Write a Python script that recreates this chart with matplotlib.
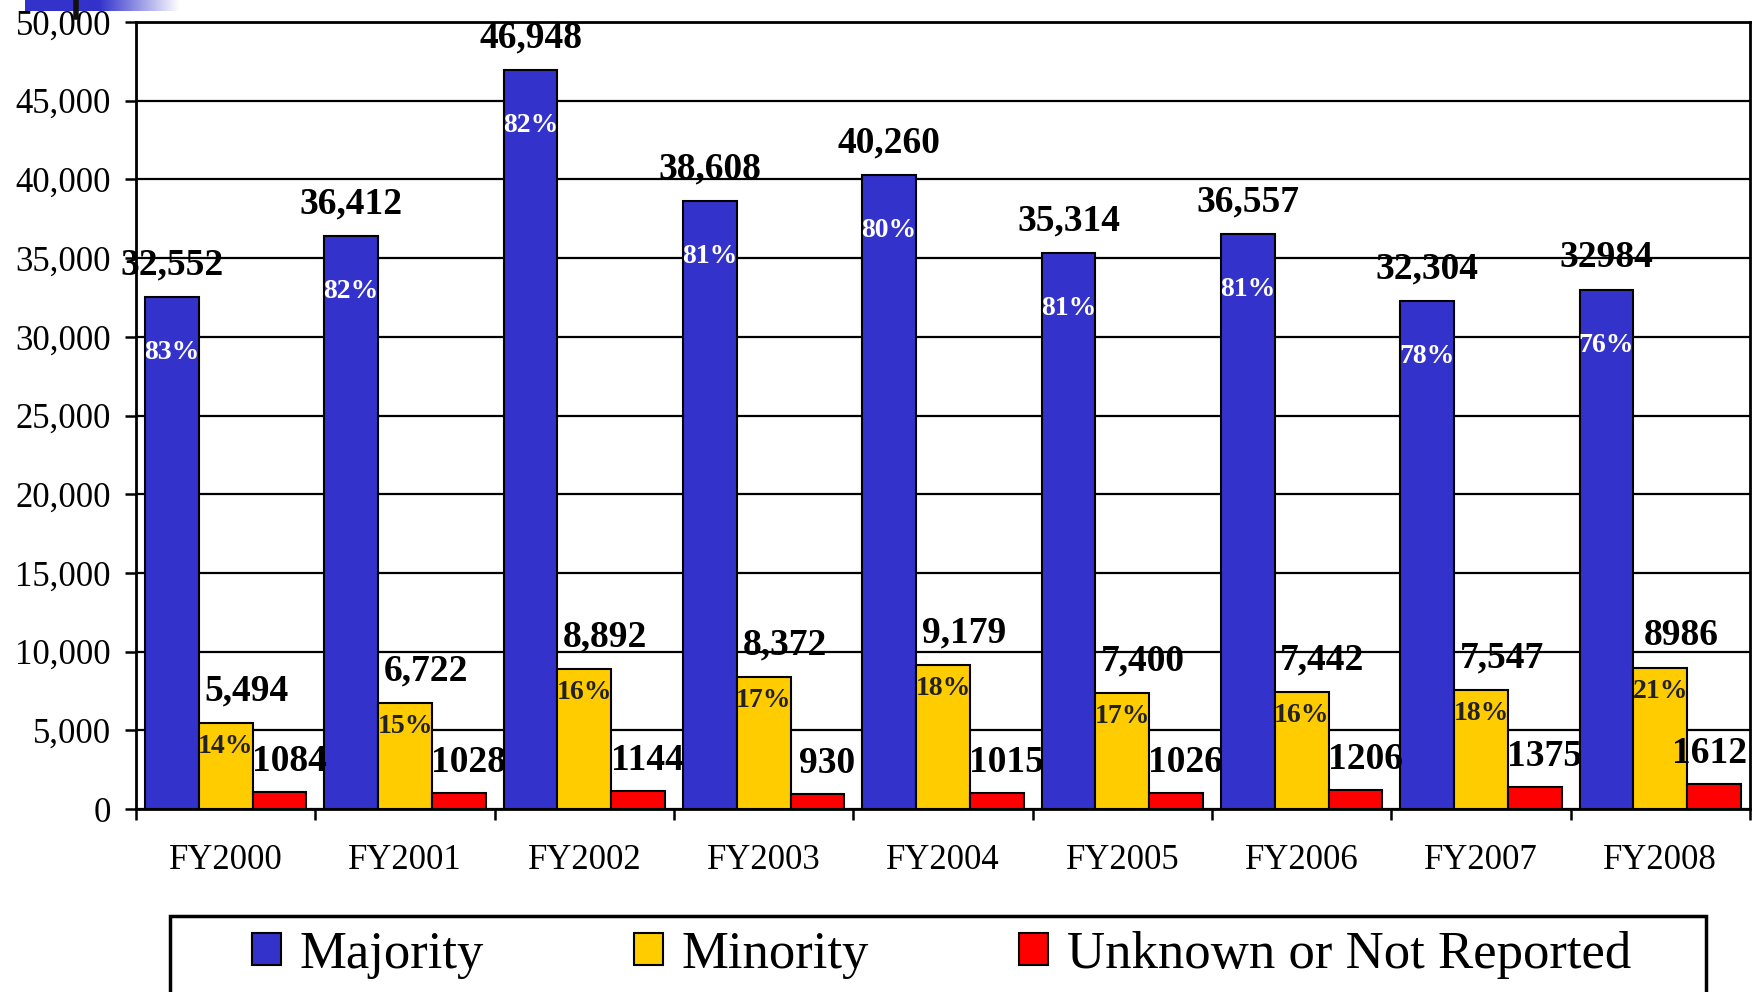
import matplotlib.pyplot as plt
import numpy as np
from matplotlib.patches import Patch, Rectangle
from matplotlib.lines import Line2D
from matplotlib.colors import LinearSegmentedColormap

# data
years = ['FY2000', 'FY2001', 'FY2002', 'FY2003', 'FY2004',
         'FY2005', 'FY2006', 'FY2007', 'FY2008']
majority = [32552, 36412, 46948, 38608, 40260, 35314, 36557, 32304, 32984]
minority = [5494, 6722, 8892, 8372, 9179, 7400, 7442, 7547, 8986]
unknown = [1084, 1028, 1144, 930, 1015, 1026, 1206, 1375, 1612]
majority_text = ['32,552', '36,412', '46,948', '38,608', '40,260',
                 '35,314', '36,557', '32,304', '32984']
minority_text = ['5,494', '6,722', '8,892', '8,372', '9,179',
                 '7,400', '7,442', '7,547', '8986']
majority_pct = [83, 82, 82, 81, 80, 81, 81, 78, 76]
minority_pct = [14, 15, 16, 17, 18, 17, 16, 18, 21]
series_names = ['Majority', 'Minority', 'Unknown or Not Reported']
colors = ['#3333CC', '#FFCC00', '#FF0000']

plt.rcParams['font.family'] = ['Liberation Serif', 'DejaVu Serif']

W, H = 1752, 992
fig = plt.figure(figsize=(W / 100, H / 100), dpi=100)
ax = fig.add_axes([136 / W, 1 - 809 / H, (1750 - 136) / W, (809 - 22) / H])

x = np.arange(len(years))
w = 0.3
ax.bar(x - w, majority, w, color=colors[0], edgecolor='black', lw=1.5, zorder=3)
ax.bar(x, minority, w, color=colors[1], edgecolor='black', lw=1.5, zorder=3)
ax.bar(x + w, unknown, w, color=colors[2], edgecolor='black', lw=1.5, zorder=3)

ax.set_xlim(-0.5, len(years) - 0.5)
ax.set_ylim(0, 50000)
ax.set_yticks(np.arange(0, 50001, 5000))
ax.set_yticklabels([f'{v:,}' for v in range(0, 50001, 5000)], fontsize=25)
ax.yaxis.grid(True, color='black', lw=1.6)
ax.set_axisbelow(True)

# group boundaries get the tick marks, names sit in between
ax.set_xticks(np.arange(-0.5, len(years), 1))
ax.set_xticklabels([])
ax.set_xticks(x, minor=True)
ax.set_xticklabels(years, minor=True, fontsize=25)
ax.tick_params(axis='x', which='major', direction='out', length=8, width=1.8)
ax.tick_params(axis='x', which='minor', length=0, pad=25)
ax.tick_params(axis='y', direction='out', length=8, width=1.8, pad=10)
for s in ax.spines.values():
    s.set_linewidth(2)
    s.set_color('black')

# value labels
lbl = dict(textcoords='offset points', ha='center', va='center',
           fontweight='bold', fontsize=27, color='black', zorder=5)
last = len(years) - 1
for i in range(len(years)):
    ax.annotate(majority_text[i], (x[i] - w, majority[i]), xytext=(0, 23), **lbl)
    ax.annotate(minority_text[i], (x[i], minority[i]), xytext=(15, 23), **lbl)
    ax.annotate(str(unknown[i]), (x[i] + w, unknown[i]),
                xytext=(7 if i < last else -3, 22), **lbl)
    ax.annotate(f'{majority_pct[i]}%', (x[i] - w, majority[i]), xytext=(0, -40),
                textcoords='offset points', ha='center', va='center',
                fontweight='bold', fontsize=20, color='white', zorder=5)
    ax.annotate(f'{minority_pct[i]}%', (x[i], minority[i]), xytext=(0, -17),
                textcoords='offset points', ha='center', va='center',
                fontweight='bold', fontsize=20, color='#222222', zorder=5)

# legend box, cut off by the bottom of the page
fig.add_artist(Rectangle((170 / W, -0.1), (1706 - 170) / W, 1 - 916 / H + 0.1,
                         transform=fig.transFigure, fill=False,
                         edgecolor='black', lw=2.5))
handles = [Patch(facecolor=c, edgecolor='black', lw=1.5) for c in colors]
fig.legend(handles, series_names, loc='center', mode='expand', ncol=3,
           bbox_to_anchor=(252 / W, 1 - 955 / H, (1631 - 252) / W, 0),
           frameon=False, fontsize=38, handlelength=0.55, handleheight=0.55,
           handletextpad=0.35, borderpad=0, borderaxespad=0)

# slide decoration in the top-left corner
grad = fig.add_axes([25 / W, 1 - 11 / H, 155 / W, 11 / H])
cmap = LinearSegmentedColormap.from_list('fade', [(0, '#3333CC'), (0.48, '#3333CC'), (1, '#FFFFFF')])
grad.imshow(np.linspace(0, 1, 256)[None, :], aspect='auto', cmap=cmap)
grad.axis('off')
fig.add_artist(Line2D([75.5 / W, 75.5 / W], [1, 1 - 17 / H], transform=fig.transFigure,
                      color='#111111', lw=4))

fig.savefig('out.png', dpi=100)
